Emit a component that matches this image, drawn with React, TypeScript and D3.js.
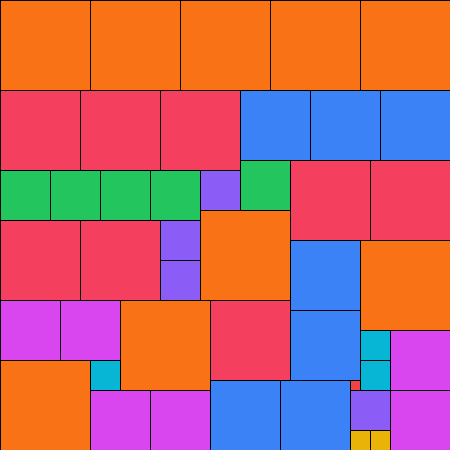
import React, { useEffect, useRef } from 'react';
import * as d3 from 'd3';

// square sizes (grid units) and their placement (top-left, grid units)
const sizes = [
  9, 9, 9, 9, 9,
  8, 8, 8, 7, 7, 7,
  5, 5, 5, 5, 4, 5, 8, 8,
  8, 8, 4, 4, 9, 7, 9,
  6, 6, 9, 8, 7, 3, 3, 6,
  9, 3, 6, 6, 7, 7, 1, 4, 6, 2, 2,
];
const xs = [
  0, 9, 18, 27, 36,
  0, 8, 16, 24, 31, 38,
  0, 5, 10, 15, 20, 24, 29, 37,
  0, 8, 16, 16, 20, 29, 36,
  0, 6, 12, 21, 29, 36, 36, 39,
  0, 9, 9, 15, 21, 28, 35, 35, 39, 35, 37,
];
const ys = [
  0, 0, 0, 0, 0,
  9, 9, 9, 9, 9, 9,
  17, 17, 17, 17, 17, 16, 16, 16,
  22, 22, 22, 26, 21, 24, 24,
  30, 30, 30, 30, 31, 33, 36, 33,
  36, 36, 39, 39, 38, 38, 38, 39, 39, 43, 43,
];

// one colour per square size (1..9)
const sizeColors: Record<number, string> = {
  1: '#ef4444',
  2: '#eab308',
  3: '#06b6d4',
  4: '#8b5cf6',
  5: '#22c55e',
  6: '#d946ef',
  7: '#3b82f6',
  8: '#f43f5e',
  9: '#f97316',
};

const App: React.FC = () => {
  const svgRef = useRef<SVGSVGElement>(null);

  useEffect(() => {
    const width = 450;
    const height = 450;

    const svg = d3.select(svgRef.current)
      .attr('width', width)
      .attr('height', height);
    svg.selectAll('*').remove();

    const x = d3.scaleLinear().domain([0, 45]).range([0, width]);
    const y = d3.scaleLinear().domain([0, 45]).range([0, height]);

    const data = sizes.map((s, i) => ({ s, x: xs[i], y: ys[i] }));

    svg.selectAll('rect')
      .data(data)
      .enter().append('rect')
      .attr('x', (d) => x(d.x))
      .attr('y', (d) => y(d.y))
      .attr('width', (d) => x(d.s) - x(0))
      .attr('height', (d) => y(d.s) - y(0))
      .attr('fill', (d) => sizeColors[d.s])
      .attr('stroke', '#000')
      .attr('stroke-width', 1)
      .attr('shape-rendering', 'crispEdges');
  }, []);

  return (
    <svg ref={svgRef} style={{ position: 'fixed', left: 0, top: 0, display: 'block' }}></svg>
  );
};

export default App;
